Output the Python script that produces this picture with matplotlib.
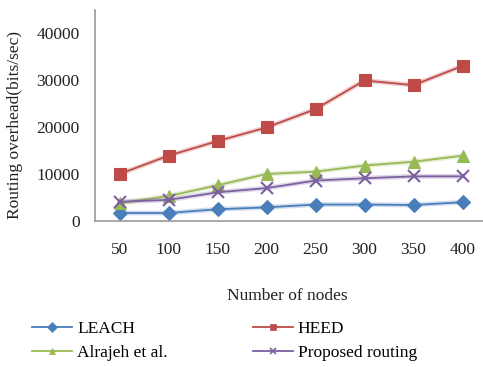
import matplotlib
matplotlib.use("Agg")
import matplotlib.pyplot as plt
from matplotlib.lines import Line2D

plt.rcParams['font.family'] = ['Liberation Serif', 'DejaVu Serif']

nodes = ["50", "100", "150", "200", "250", "300", "350", "400"]
leach = [1700, 1700, 2500, 2900, 3500, 3500, 3400, 4000]
heed = [10000, 13900, 17000, 19900, 23800, 29900, 28900, 33000]
alrajeh = [3800, 5300, 7600, 10000, 10500, 11800, 12600, 13900]
proposed = [4100, 4500, 6100, 7000, 8600, 9100, 9500, 9500]
yticks = [0, 10000, 20000, 30000, 40000]

fig = plt.figure(figsize=(4.83, 3.67), dpi=100)
W, H = 483, 367
ax = fig.add_axes([95 / W, 1 - 221 / H, (487 - 95) / W, (221 - 9.5) / H])

x = list(range(len(nodes)))
series = [
    ("LEACH", leach, "#4a7ebb", "D", 7),
    ("HEED", heed, "#be4b48", "s", 8.5),
    ("Alrajeh et al.", alrajeh, "#98b954", "^", 8.5),
    ("Proposed routing", proposed, "#7d60a0", "x", 8.5),
]
for name, vals, col, mk, ms in series:
    ax.plot(x, vals, color=col, lw=3.5, alpha=0.25, solid_capstyle="round")
    ax.plot(x, vals, color=col, lw=1.3, marker=mk, ms=ms,
            markeredgewidth=1.5 if mk == "x" else 0.8,
            markeredgecolor=col, markerfacecolor=col)

ax.set_xlim(-0.5, len(nodes) - 0.5)
ax.set_ylim(0, 45000)
ax.set_xticks(x)
ax.set_xticklabels(nodes)
ax.set_yticks(yticks)
ax.set_yticklabels([str(v) for v in yticks])
ax.tick_params(axis="both", length=0, labelsize=12.5, colors="#222222")
ax.tick_params(axis="x", pad=15)
ax.tick_params(axis="y", pad=11)
for s in ["top", "right"]:
    ax.spines[s].set_visible(False)
for s in ["left", "bottom"]:
    ax.spines[s].set_color("#999999")
    ax.spines[s].set_linewidth(1.2)

fig.text(15 / W, 1 - 125 / H, "Routing overhead(bits/sec)", rotation=90,
         ha="center", va="center", fontsize=12.5, color="#222222")
fig.text(287 / W, 1 - 296 / H, "Number of nodes", ha="center", va="center",
         fontsize=12.5, color="#222222")

order = [0, 2, 1, 3]
handles = []
labels = []
for i in order:
    name, vals, col, mk, ms = series[i]
    handles.append(Line2D([0], [0], color=col, lw=1.3, marker=mk, ms=5,
                          markeredgecolor=col, markerfacecolor=col,
                          markeredgewidth=1.2 if mk == "x" else 0.5))
    labels.append(name)
leg = fig.legend(handles, labels, ncol=2,
                 loc="upper left", bbox_to_anchor=(32 / W, 1 - 321 / H),
                 frameon=False, fontsize=12.5, handlelength=2.3,
                 handletextpad=0.3, columnspacing=4.9, labelspacing=0.44,
                 borderaxespad=0, borderpad=0)

fig.savefig("out.png", dpi=100)
